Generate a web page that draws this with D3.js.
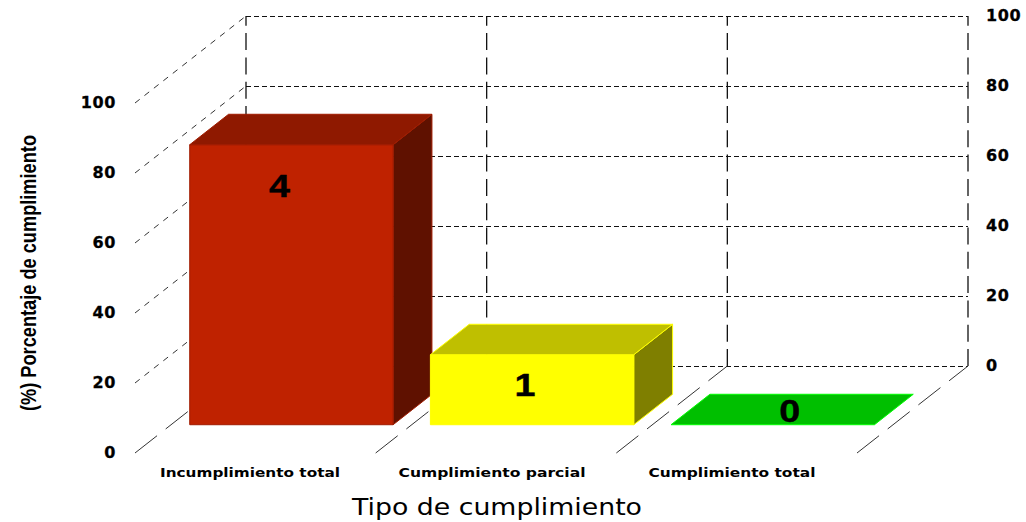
<!DOCTYPE html>
<html>
<head>
<meta charset="utf-8">
<script src="https://cdn.jsdelivr.net/npm/d3@7"></script>
<style>
  body { margin: 0; background: #fff; }
  svg { display: block; }
  .tick-label { font-family: "DejaVu Sans", sans-serif; font-weight: bold; font-size: 16px; fill: #000; stroke: #000; stroke-width: 0.3px; letter-spacing: 0.6px; }
</style>
</head>
<body>
<div id="chart"></div>
<script>
/* 3D bar chart, cumplimiento */

const categories = ["Incumplimiento total", "Cumplimiento parcial", "Cumplimiento total"];
const percentages = [80, 20, 0];
const counts = [4, 1, 0];
const yTicks = [0, 20, 40, 60, 80, 100];

const width = 1026,
    height = 522;

// face colours for each bar: front, top, side, outline
const faces = [
    { front: "#bf2200", top: "#8f1900", side: "#5f1100", edge: "#a01c00" },
    { front: "#ffff00", top: "#bfbf00", side: "#7f7f00", edge: "#ffff00" },
    { front: "#00bf00", top: "#00bf00", side: "#00bf00", edge: "#00ff00" }
];
// where the count sits, relative to the middle top of the front face
const countNudge = [[-12, 41], [-7, 30], [17, -14]];
const catLabelX = [250, 492, 732];
const catLabelLen = [180, 187, 167];

const svg = d3.select("#chart")
    .append("svg")
    .attr("width", width)
    .attr("height", height)
    .attr("viewBox", [0, 0, width, height]);

let x = d3.scaleBand()
    .domain(categories)
    .range([135, 857])
    .paddingInner(0.155)
    .paddingOuter(0.0775);

let y = d3.scaleLinear()
    .domain([0, 100])
    .range([453, 103]);

// depth goes from the front of the floor (0) to the back wall (1)
let zx = d3.scaleLinear().domain([0, 1]).range([0, 111]);
let zy = d3.scaleLinear().domain([0, 1]).range([0, -87]);

const barFront = 0.325,
    barBack = 0.675;

const slotX = i => x.range()[0] + i * x.step();
const backLeft = slotX(0) + zx(1),
    backRight = slotX(3) + zx(1);

// Back wall, horizontal grid
svg.append("g")
    .selectAll("line")
    .data(yTicks)
    .join("line")
    .attr("x1", backLeft)
    .attr("x2", backRight)
    .attr("y1", d => y(d) + zy(1) + 0.5)
    .attr("y2", d => y(d) + zy(1) + 0.5)
    .attr("stroke", "#111")
    .attr("stroke-dasharray", "5,3");

// Back wall, vertical grid (drawn from the floor up)
svg.append("g")
    .selectAll("line")
    .data(d3.range(4))
    .join("line")
    .attr("x1", i => slotX(i) + zx(1))
    .attr("x2", i => slotX(i) + zx(1))
    .attr("y1", y(0) + zy(1))
    .attr("y2", y(100) + zy(1))
    .attr("stroke", "#111")
    .attr("stroke-width", 1.3)
    .attr("stroke-dasharray", "17,7.3");

// Left side wall
svg.append("g")
    .selectAll("line")
    .data(yTicks.filter(d => d > 0))
    .join("line")
    .attr("x1", slotX(0))
    .attr("x2", slotX(0) + zx(1))
    .attr("y1", d => y(d))
    .attr("y2", d => y(d) + zy(1))
    .attr("stroke", "#333")
    .attr("stroke-dasharray", "6,6");

// Floor
svg.append("g")
    .selectAll("line")
    .data(d3.range(4))
    .join("line")
    .attr("x1", i => slotX(i))
    .attr("x2", i => slotX(i) + zx(1))
    .attr("y1", y(0))
    .attr("y2", y(0) + zy(1))
    .attr("stroke", "#333")
    .attr("stroke-dasharray", "28,11");

const pt = (px, py, z) => [px + zx(z), py + zy(z)];
const poly = d3.line();

// Bars
const bars = svg.append("g")
    .selectAll("g")
    .data(categories)
    .join("g");

bars.each(function (c, i) {
    const g = d3.select(this),
        x0 = x(c),
        x1 = x(c) + x.bandwidth(),
        top = y(percentages[i]),
        bottom = y(0),
        col = faces[i];

    const addFace = (points, fill) => g.append("path")
        .attr("d", poly(points) + "Z")
        .attr("fill", fill)
        .attr("stroke", col.edge)
        .attr("stroke-width", 1);

    if (percentages[i] > 0) {
        addFace([pt(x1, top, barFront), pt(x1, top, barBack), pt(x1, bottom, barBack), pt(x1, bottom, barFront)], col.side);
        addFace([pt(x0, bottom, barFront), pt(x1, bottom, barFront), pt(x1, top, barFront), pt(x0, top, barFront)], col.front);
    }
    addFace([pt(x0, top, barFront), pt(x1, top, barFront), pt(x1, top, barBack), pt(x0, top, barBack)], col.top);
});

// Counts on the bars
svg.append("g")
    .selectAll("text")
    .data(categories)
    .join("text")
    .attr("x", (c, i) => x(c) + x.bandwidth() / 2 + zx(barFront) + countNudge[i][0])
    .attr("y", (c, i) => y(percentages[i]) + zy(barFront) + countNudge[i][1])
    .attr("dy", "0.36em")
    .attr("text-anchor", "middle")
    .attr("font-family", "Liberation Sans, sans-serif")
    .attr("font-weight", "bold")
    .attr("font-size", 32)
    .attr("textLength", 21)
    .attr("lengthAdjust", "spacingAndGlyphs")
    .attr("stroke", "#000")
    .attr("stroke-width", 0.4)
    .text((c, i) => counts[i]);

// Y axes, only the labels
const axisLeft = svg.append("g")
    .attr("transform", "translate(126,-1)")
    .call(d3.axisLeft(y).tickValues(yTicks).tickSize(0));
axisLeft.select(".domain").remove();
axisLeft.selectAll("text").attr("class", "tick-label").attr("x", -10).attr("dy", "0.34em");

const axisRight = svg.append("g")
    .attr("transform", `translate(${backRight},${zy(1) - 1})`)
    .call(d3.axisRight(y).tickValues(yTicks).tickSize(0));
axisRight.select(".domain").remove();
axisRight.selectAll("text").attr("class", "tick-label").attr("x", 18).attr("dy", "0.34em");

// Category labels
svg.append("g")
    .selectAll("text")
    .data(categories)
    .join("text")
    .attr("x", (c, i) => catLabelX[i])
    .attr("y", 477)
    .attr("text-anchor", "middle")
    .attr("font-family", "DejaVu Sans, sans-serif")
    .attr("font-weight", "bold")
    .attr("font-size", 13)
    .attr("textLength", (c, i) => catLabelLen[i])
    .attr("lengthAdjust", "spacingAndGlyphs")
    .text(c => c);

// Axis titles
svg.append("text")
    .attr("x", 497)
    .attr("y", 515)
    .attr("text-anchor", "middle")
    .attr("font-family", "DejaVu Sans, sans-serif")
    .attr("font-size", 23)
    .attr("textLength", 290)
    .attr("lengthAdjust", "spacingAndGlyphs")
    .text("Tipo de cumplimiento");

svg.append("text")
    .attr("transform", "translate(36,273) rotate(-90)")
    .attr("text-anchor", "middle")
    .attr("font-family", "Liberation Sans, sans-serif")
    .attr("font-weight", "bold")
    .attr("font-size", 22)
    .attr("textLength", 276)
    .attr("lengthAdjust", "spacingAndGlyphs")
    .text("(%) Porcentaje de cumplimiento");
</script>
</body>
</html>
